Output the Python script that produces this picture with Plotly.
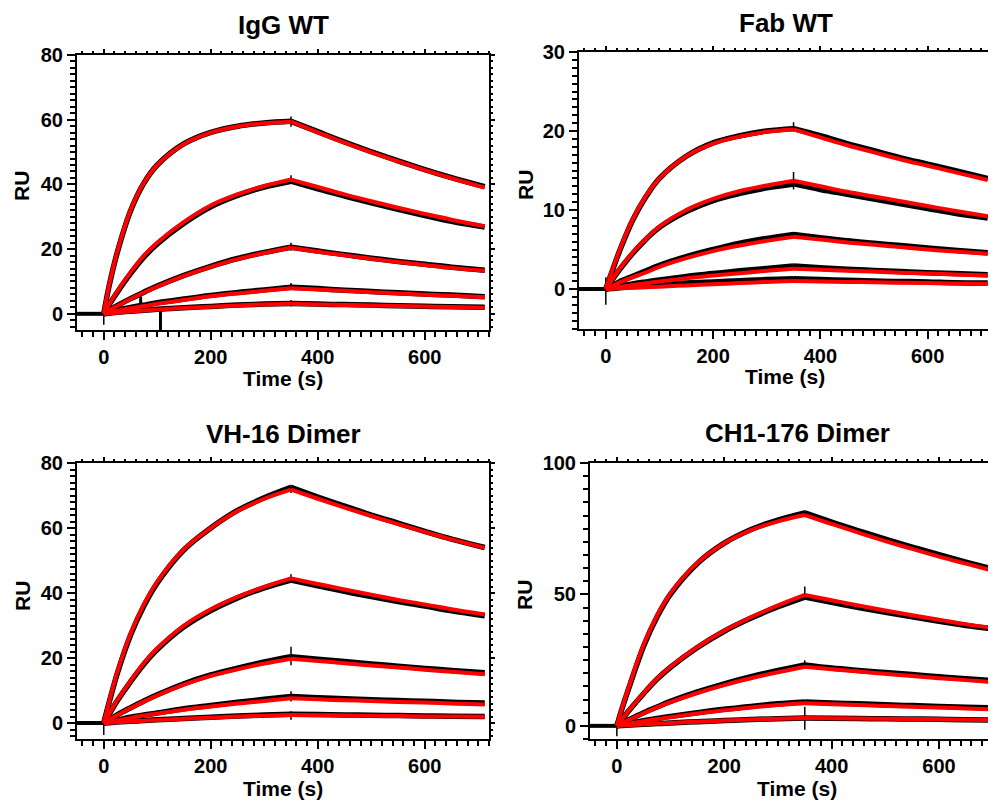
import plotly.graph_objects as go

W, H = 996, 801
OFF = 8  # the page body adds an 8 px margin; positions below are screen pixels

# ---------------- data ----------------
T_BASE = [-50, -25, 0]
T_ASSOC = [0, 10, 25, 50, 75, 100, 150, 200, 250, 300, 350]
T_DISS = [350, 400, 450, 500, 550, 600, 650, 712]

panel_titles = ["IgG WT", "Fab WT", "VH-16 Dimer", "CH1-176 Dimer"]
x_tick_labels = ["0", "200", "400", "600"]

# IgG WT
igg_fit_assoc = [
    [0, 8.8, 19, 32, 40.5, 46, 52.5, 56, 57.9, 58.9, 59.4],
    [0, 2.9, 6.9, 12.8, 18, 22, 28.4, 33.5, 36.9, 39.5, 41.5],
    [0, 1.0, 2.4, 4.6, 6.6, 8.4, 11.7, 14.5, 16.9, 18.8, 20.4],
    [0, 0.35, 0.9, 1.7, 2.4, 3.1, 4.3, 5.4, 6.3, 7.1, 7.9],
    [0, 0.15, 0.35, 0.7, 1.0, 1.3, 1.8, 2.2, 2.6, 2.9, 3.1],
]
igg_fit_diss = [
    [59.4, 56.1, 52.9, 49.9, 47.1, 44.4, 41.9, 39.0],
    [41.5, 39.2, 36.9, 34.8, 32.8, 30.9, 29.1, 27.1],
    [20.4, 19.2, 18.1, 17.0, 16.0, 15.1, 14.2, 13.3],
    [7.9, 7.5, 7.1, 6.7, 6.3, 5.9, 5.6, 5.1],
    [3.1, 2.9, 2.75, 2.6, 2.4, 2.25, 2.1, 1.9],
]
igg_obs_assoc = [
    [0, 8.6, 18.8, 31.8, 40.4, 46, 52.6, 56.1, 58.0, 59.0, 59.5],
    [0, 2.8, 6.6, 12.4, 17.5, 21.6, 28.0, 33.1, 36.6, 39.2, 41.0],
    [0, 1.0, 2.5, 4.7, 6.7, 8.6, 11.9, 14.7, 17.1, 19.0, 20.6],
    [0, 0.5, 1.1, 2.0, 2.7, 3.4, 4.6, 5.7, 6.6, 7.4, 8.2],
    [0, 0.2, 0.45, 0.8, 1.1, 1.4, 1.9, 2.3, 2.7, 3.0, 3.2],
]
igg_obs_diss = [
    [59.5, 56.3, 53.1, 50.1, 47.3, 44.6, 42.1, 39.3],
    [41.0, 38.6, 36.4, 34.3, 32.3, 30.4, 28.6, 26.8],
    [20.6, 19.4, 18.3, 17.2, 16.2, 15.3, 14.4, 13.5],
    [8.2, 7.8, 7.3, 6.9, 6.5, 6.1, 5.8, 5.3],
    [3.2, 3.0, 2.85, 2.7, 2.5, 2.35, 2.2, 2.0],
]
igg_spike_t = [0, 350, 350, 350, 350, 350]
igg_spike_lo = [-3.4, 57.8, 40.5, 19.5, 7.4, 2.3]
igg_spike_hi = [1.0, 61.0, 42.8, 22.0, 9.5, 4.2]
igg_artifact_t = [69, 106]
igg_artifact_lo = [2.8, -5.0]
igg_artifact_hi = [5.3, 1.5]

# Fab WT
fab_fit_assoc = [
    [0, 2.0, 4.8, 8.8, 11.8, 14.0, 16.8, 18.4, 19.3, 19.9, 20.2],
    [0, 1.0, 2.5, 4.6, 6.4, 7.9, 10.0, 11.4, 12.4, 13.1, 13.7],
    [0, 0.3, 0.8, 1.5, 2.1, 2.8, 3.9, 4.8, 5.5, 6.1, 6.6],
    [0, 0.1, 0.25, 0.5, 0.72, 0.95, 1.35, 1.7, 2.0, 2.3, 2.55],
    [0, 0.03, 0.08, 0.15, 0.22, 0.3, 0.45, 0.6, 0.75, 0.9, 1.0],
]
fab_fit_diss = [
    [20.2, 19.2, 18.2, 17.3, 16.4, 15.6, 14.8, 13.8],
    [13.7, 13.0, 12.3, 11.7, 11.1, 10.5, 9.9, 9.2],
    [6.6, 6.25, 5.9, 5.6, 5.3, 5.0, 4.75, 4.45],
    [2.55, 2.45, 2.3, 2.2, 2.05, 1.95, 1.85, 1.7],
    [1.0, 0.95, 0.9, 0.85, 0.8, 0.75, 0.7, 0.65],
]
fab_obs_assoc = [
    [0, 1.9, 4.7, 8.7, 11.7, 14.0, 16.8, 18.5, 19.4, 20.0, 20.3],
    [0, 1.0, 2.4, 4.5, 6.3, 7.8, 9.8, 11.2, 12.1, 12.8, 13.3],
    [0, 0.35, 0.9, 1.6, 2.3, 3.0, 4.1, 5.0, 5.8, 6.4, 6.9],
    [0, 0.15, 0.35, 0.65, 0.9, 1.15, 1.6, 1.95, 2.3, 2.6, 2.9],
    [0, 0.05, 0.15, 0.3, 0.45, 0.55, 0.75, 0.9, 1.05, 1.2, 1.3],
]
fab_obs_diss = [
    [20.3, 19.4, 18.4, 17.5, 16.6, 15.8, 15.0, 14.0],
    [13.3, 12.6, 12.0, 11.4, 10.8, 10.2, 9.6, 9.0],
    [6.9, 6.5, 6.1, 5.8, 5.5, 5.2, 4.9, 4.6],
    [2.9, 2.7, 2.5, 2.35, 2.2, 2.05, 1.95, 1.8],
    [1.3, 1.2, 1.1, 1.0, 0.95, 0.9, 0.8, 0.75],
]
fab_spike_t = [0, 350, 350, 350, 350, 350]
fab_spike_lo = [-2.0, 20.0, 12.6, 6.5, 2.5, 0.8]
fab_spike_hi = [1.5, 21.1, 14.8, 7.2, 3.1, 1.5]

# VH-16 Dimer
vh_fit_assoc = [
    [0, 6.5, 15.5, 27.5, 36.5, 43.5, 53.5, 60, 65.2, 69, 71.8],
    [0, 2.8, 7, 13, 18.5, 23, 30, 35, 38.8, 41.9, 44.5],
    [0, 1.0, 2.4, 4.6, 6.6, 8.5, 11.8, 14.5, 16.5, 18.3, 19.8],
    [0, 0.3, 0.8, 1.6, 2.3, 2.9, 4.1, 5.1, 6.0, 6.8, 7.6],
    [0, 0.1, 0.25, 0.5, 0.7, 0.9, 1.3, 1.65, 2.0, 2.25, 2.5],
]
vh_fit_diss = [
    [71.8, 69.0, 66.3, 63.7, 61.2, 58.8, 56.5, 53.9],
    [44.5, 42.8, 41.1, 39.5, 37.9, 36.5, 35.0, 33.4],
    [19.8, 19.1, 18.4, 17.7, 17.1, 16.4, 15.8, 15.0],
    [7.6, 7.3, 7.0, 6.8, 6.5, 6.3, 6.0, 5.7],
    [2.5, 2.4, 2.35, 2.25, 2.15, 2.05, 2.0, 1.9],
]
vh_obs_assoc = [
    [0, 6.3, 15.1, 27.0, 36.0, 43.1, 53.3, 60.0, 65.4, 69.3, 72.5],
    [0, 2.7, 6.8, 12.7, 18.1, 22.6, 29.6, 34.6, 38.5, 41.6, 44.0],
    [0, 1.0, 2.5, 4.7, 6.8, 8.7, 12.1, 14.8, 16.9, 18.8, 20.4],
    [0, 0.35, 0.9, 1.8, 2.5, 3.1, 4.4, 5.4, 6.4, 7.3, 8.2],
    [0, 0.12, 0.3, 0.55, 0.75, 1.0, 1.4, 1.8, 2.15, 2.45, 2.7],
]
vh_obs_diss = [
    [72.5, 69.5, 66.7, 64.0, 61.5, 59.0, 56.6, 54.0],
    [44.0, 42.2, 40.5, 38.9, 37.4, 36.0, 34.5, 33.0],
    [20.4, 19.6, 18.9, 18.2, 17.5, 16.8, 16.2, 15.5],
    [8.2, 7.8, 7.5, 7.2, 6.9, 6.7, 6.4, 6.2],
    [2.7, 2.6, 2.5, 2.4, 2.3, 2.2, 2.1, 2.0],
]
vh_spike_t = [0, 350, 350, 350, 350, 350]
vh_spike_lo = [-3.7, 70.8, 43.3, 17.8, 6.6, 1.0]
vh_spike_hi = [1.0, 73.3, 45.8, 23.5, 9.8, 3.6]

# CH1-176 Dimer
ch_fit_assoc = [
    [0, 7.0, 16.5, 31, 42, 50.5, 62, 69.5, 74.5, 77.8, 80.2],
    [0, 2.6, 6.5, 12.5, 18, 22.5, 30, 36.2, 41.3, 45.8, 49.8],
    [0, 1.0, 2.5, 4.8, 7.0, 9.0, 12.5, 15.5, 18.1, 20.4, 22.5],
    [0, 0.35, 0.9, 1.8, 2.6, 3.3, 4.7, 5.9, 7.0, 7.9, 8.6],
    [0, 0.12, 0.3, 0.6, 0.85, 1.1, 1.6, 2.0, 2.4, 2.75, 3.0],
]
ch_fit_diss = [
    [80.2, 76.8, 73.5, 70.3, 67.3, 64.4, 61.7, 58.4],
    [49.8, 47.8, 45.8, 43.9, 42.1, 40.4, 38.7, 36.9],
    [22.5, 21.55, 20.65, 19.8, 18.95, 18.15, 17.4, 16.5],
    [8.6, 8.25, 7.9, 7.55, 7.25, 6.95, 6.65, 6.2],
    [3.0, 2.9, 2.8, 2.7, 2.6, 2.5, 2.35, 2.2],
]
ch_obs_assoc = [
    [0, 6.8, 16.0, 30.4, 41.5, 50.1, 61.8, 69.5, 74.7, 78.3, 81.0],
    [0, 2.6, 6.4, 12.3, 17.8, 22.3, 29.8, 36.0, 41.0, 45.3, 49.0],
    [0, 1.1, 2.6, 5.0, 7.2, 9.3, 12.9, 16.0, 18.7, 21.1, 23.2],
    [0, 0.4, 1.0, 2.0, 2.8, 3.6, 5.0, 6.3, 7.4, 8.4, 9.1],
    [0, 0.12, 0.3, 0.6, 0.85, 1.1, 1.6, 2.0, 2.4, 2.75, 3.0],
]
ch_obs_diss = [
    [81.0, 77.5, 74.2, 71.0, 68.0, 65.1, 62.3, 59.0],
    [49.0, 47.0, 45.0, 43.2, 41.5, 39.8, 38.2, 36.6],
    [23.2, 22.0, 21.1, 20.3, 19.5, 18.7, 17.9, 17.0],
    [9.1, 8.7, 8.4, 8.0, 7.7, 7.4, 7.1, 6.8],
    [3.0, 2.9, 2.8, 2.7, 2.6, 2.5, 2.35, 2.2],
]
ch_spike_t = [0, 350, 350, 350, 350, 350]
ch_spike_lo = [-4.0, 79.5, 48.5, 22.0, 8.0, -1.5]
ch_spike_hi = [1.0, 82.0, 53.0, 25.0, 9.6, 7.3]

baseline_obs = [0, 0, 0]

panels_fit_assoc = [igg_fit_assoc, fab_fit_assoc, vh_fit_assoc, ch_fit_assoc]
panels_fit_diss = [igg_fit_diss, fab_fit_diss, vh_fit_diss, ch_fit_diss]
panels_obs_assoc = [igg_obs_assoc, fab_obs_assoc, vh_obs_assoc, ch_obs_assoc]
panels_obs_diss = [igg_obs_diss, fab_obs_diss, vh_obs_diss, ch_obs_diss]
panels_spikes = [
    (igg_spike_t, igg_spike_lo, igg_spike_hi),
    (fab_spike_t, fab_spike_lo, fab_spike_hi),
    (vh_spike_t, vh_spike_lo, vh_spike_hi),
    (ch_spike_t, ch_spike_lo, ch_spike_hi),
]

# ---------------- layout geometry (screen pixels) ----------------
frames = [(77, 489, 55, 330), (579, 992, 52, 328.5), (77, 489, 463, 739.3), (590, 1004, 463, 739)]
x_ranges = [[-50, 720], [-50, 720], [-50, 720], [-50, 721]]
y_ranges = [[-5, 80], [-5, 30], [-5, 80], [-5, 100]]
y_dticks = [20, 10, 20, 50]
y_minor = [2, 1, 2, 5]

FONT = "Liberation Sans, Arial, Helvetica, sans-serif"

fig = go.Figure()


def seg(assoc, diss):
    xs = list(T_ASSOC) + [None] + list(T_DISS)
    ys = list(assoc) + [None] + list(diss)
    return xs, ys


def ax(prefix, n):
    return prefix if n == 1 else f"{prefix}{n}"


def vbars(ts, los, his):
    sx, sy = [], []
    for t, lo, hi in zip(ts, los, his):
        sx += [t, t, None]
        sy += [lo, hi, None]
    return sx, sy


for p in range(4):
    xa = ax("x", p + 1)
    ya = ax("y", p + 1)
    fig.add_trace(go.Scatter(x=T_BASE, y=baseline_obs, mode="lines",
                             line=dict(color="black", width=4),
                             xaxis=xa, yaxis=ya, showlegend=False, hoverinfo="skip"))
    for c in range(5):
        xs, ys = seg(panels_obs_assoc[p][c], panels_obs_diss[p][c])
        fig.add_trace(go.Scatter(x=xs, y=ys, mode="lines", connectgaps=False,
                                 line=dict(color="black", width=5.5, shape="spline", smoothing=1),
                                 xaxis=xa, yaxis=ya, showlegend=False, hoverinfo="skip"))
    sx, sy = vbars(*panels_spikes[p])
    fig.add_trace(go.Scatter(x=sx, y=sy, mode="lines", line=dict(color="black", width=1.5),
                             xaxis=xa, yaxis=ya, showlegend=False, hoverinfo="skip"))
    if p == 0:
        ax_, ay_ = vbars(igg_artifact_t, igg_artifact_lo, igg_artifact_hi)
        fig.add_trace(go.Scatter(x=ax_, y=ay_, mode="lines", line=dict(color="black", width=3),
                                 xaxis=xa, yaxis=ya, showlegend=False, hoverinfo="skip"))
    for c in range(5):
        xs, ys = seg(panels_fit_assoc[p][c], panels_fit_diss[p][c])
        fig.add_trace(go.Scatter(x=xs, y=ys, mode="lines", connectgaps=False,
                                 line=dict(color="#ff0000", width=4, shape="spline", smoothing=1),
                                 xaxis=xa, yaxis=ya, showlegend=False, hoverinfo="skip"))
    # carriers for the mirrored (top / right) tick axes
    fig.add_trace(go.Scatter(x=[None], y=[None], mode="lines", xaxis=ax("x", p + 5), yaxis=ya,
                             showlegend=False, hoverinfo="skip"))
    fig.add_trace(go.Scatter(x=[None], y=[None], mode="lines", xaxis=xa, yaxis=ax("y", p + 5),
                             showlegend=False, hoverinfo="skip"))

tickfont = dict(family=FONT, size=20, color="black", weight="bold")
layout_axes = {}
for p in range(4):
    l, r, t, b = frames[p]
    xk, yk = ax("xaxis", p + 1), ax("yaxis", p + 1)
    xa, ya = ax("x", p + 1), ax("y", p + 1)
    xdom = [(l - OFF) / W, min((r - OFF) / W, 1.0)]
    ydom = [1 - (b - OFF) / H, 1 - (t - OFF) / H]
    layout_axes[xk] = dict(
        domain=xdom, range=x_ranges[p], anchor=ya,
        showline=True, linecolor="black", linewidth=2, mirror=True,
        ticks="outside", ticklen=8, tickwidth=2, tickcolor="black",
        tickmode="array", tickvals=[0, 200, 400, 600], ticktext=x_tick_labels,
        minor=dict(tickmode="linear", tick0=0, dtick=20, ticks="outside", ticklen=5,
                   tickwidth=1.5, tickcolor="black", showgrid=False),
        tickfont=tickfont, showgrid=False, zeroline=False, fixedrange=True, automargin=False,
    )
    layout_axes[yk] = dict(
        domain=ydom, range=y_ranges[p], anchor=xa,
        showline=True, linecolor="black", linewidth=2, mirror=True,
        ticks="outside", ticklen=8, tickwidth=2, tickcolor="black",
        tickmode="linear", tick0=0, dtick=y_dticks[p],
        minor=dict(tickmode="linear", tick0=0, dtick=y_minor[p], ticks="outside", ticklen=5,
                   tickwidth=1.5, tickcolor="black", showgrid=False),
        tickfont=tickfont, showgrid=False, zeroline=False, fixedrange=True, automargin=False,
    )
    layout_axes[ax("xaxis", p + 5)] = dict(
        overlaying=xa, side="top", anchor=ya, range=x_ranges[p], matches=xa,
        showline=False, ticks="outside", ticklen=5, tickwidth=2, tickcolor="black",
        tickmode="array", tickvals=[0, 200, 400, 600], showticklabels=False,
        minor=dict(tickmode="linear", tick0=0, dtick=20, ticks="outside", ticklen=3,
                   tickwidth=1.5, tickcolor="black", showgrid=False),
        showgrid=False, zeroline=False, fixedrange=True, automargin=False,
    )
    layout_axes[ax("yaxis", p + 5)] = dict(
        overlaying=ya, side="right", anchor=xa, range=y_ranges[p], matches=ya,
        showline=False, ticks="outside", ticklen=5, tickwidth=2, tickcolor="black",
        tickmode="linear", tick0=0, dtick=y_dticks[p], showticklabels=False,
        minor=dict(tickmode="linear", tick0=0, dtick=y_minor[p], ticks="outside", ticklen=3,
                   tickwidth=1.5, tickcolor="black", showgrid=False),
        showgrid=False, zeroline=False, fixedrange=True, automargin=False,
    )

annotations = []
title_pos = [(283, 25), (786, 23), (283, 434), (797, 433)]
xlabel_pos = [(283, 378), (785, 376), (283, 788), (797, 788)]
ylabel_pos = [(21, 186), (525, 185), (22, 596), (524, 595)]
for p in range(4):
    tx, ty = title_pos[p]
    annotations.append(dict(text=panel_titles[p], x=(tx - OFF) / W, y=1 - (ty - OFF) / H,
                            xref="paper", yref="paper", xanchor="center", yanchor="middle",
                            showarrow=False,
                            font=dict(family=FONT, size=26, color="black", weight="bold")))
    lx, ly = xlabel_pos[p]
    annotations.append(dict(text="Time (s)", x=(lx - OFF) / W, y=1 - (ly - OFF) / H,
                            xref="paper", yref="paper", xanchor="center", yanchor="middle",
                            showarrow=False,
                            font=dict(family=FONT, size=21, color="black", weight="bold")))
    rx, ry = ylabel_pos[p]
    annotations.append(dict(text="RU", x=(rx - OFF) / W, y=1 - (ry - OFF) / H,
                            xref="paper", yref="paper", xanchor="center", yanchor="middle",
                            showarrow=False, textangle=-90,
                            font=dict(family=FONT, size=21, color="black", weight="bold")))

fig.update_layout(
    template="none",
    width=W, height=H, margin=dict(l=0, r=0, t=0, b=0, pad=0, autoexpand=False),
    paper_bgcolor="white", plot_bgcolor="white",
    annotations=annotations, showlegend=False,
    **layout_axes,
)

fig.write_html("out.html", config={"displayModeBar": False})
